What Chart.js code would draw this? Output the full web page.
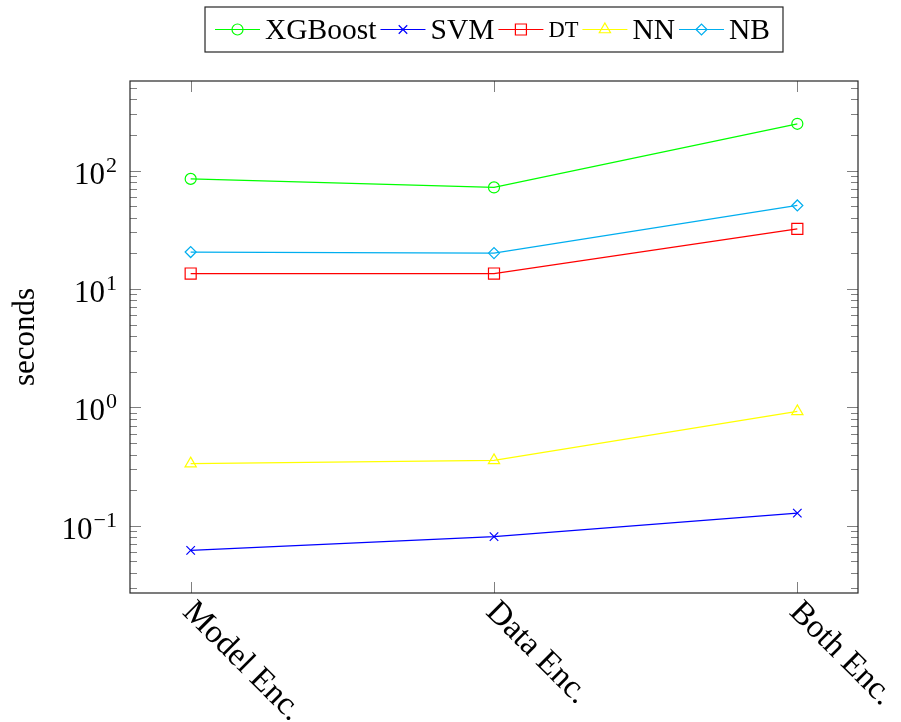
<!DOCTYPE html>
<html>
<head>
<meta charset="utf-8">
<script src="https://cdn.jsdelivr.net/npm/chart.js@4.4.1/dist/chart.umd.min.js"></script>
<style>
    html, body { margin: 0; padding: 0; background: #ffffff; }
    canvas { display: block; }
</style>
</head>
<body>
<canvas id="timeChart" width="901" height="722"></canvas>
<script>
// Runtime in seconds per encoding variant
const categories = ['Model Enc.', 'Data Enc.', 'Both Enc.'];
const xgboostTimes = [85, 72, 248];
const svmTimes = [0.062, 0.081, 0.128];
const dtTimes = [13.5, 13.5, 32.2];
const nnTimes = [0.335, 0.357, 0.925];
const nbTimes = [20.5, 20.1, 50.7];

const yMin = 0.0271;
const yMax = 570;
const yExponents = [-2, -1, 0, 1, 2];

const serifFont = '"Liberation Serif", "DejaVu Serif", serif';

function toPoints(values) {
    return values.map((v, i) => ({ x: i, y: v }));
}

function makeDataset(label, values, color, style, radius) {
    return {
        label: label,
        data: toPoints(values),
        borderColor: color,
        backgroundColor: 'rgba(0,0,0,0)',
        borderWidth: 1.2,
        pointStyle: style,
        pointRadius: radius,
        pointHoverRadius: radius,
        pointBorderColor: color,
        pointBackgroundColor: 'rgba(0,0,0,0)',
        pointBorderWidth: 1.2,
        tension: 0
    };
}

const chartData = {
    datasets: [
        makeDataset('XGBoost', xgboostTimes, '#00ff00', 'circle', 5.5),
        makeDataset('SVM', svmTimes, '#0000ff', 'crossRot', 6),
        makeDataset('DT', dtTimes, '#ff0000', 'rect', 7.8),
        makeDataset('NN', nnTimes, '#ffff00', 'triangle', 6.5),
        makeDataset('NB', nbTimes, '#00aeef', 'rectRot', 5.5)
    ]
};

// all 1..9 x 10^n values inside the axis range
function logTicks() {
    let ticks = [];
    yExponents.forEach(e => {
        for (let m = 1; m <= 9; m++) {
            let v = m * Math.pow(10, e);
            if (v >= yMin && v <= yMax) {
                ticks.push({ value: v, major: m === 1 });
            }
        }
    });
    return ticks;
}

// frame, inward ticks and all axis texts
const axisDecor = {
    id: 'axisDecor',
    afterDraw(chart) {
        const ctx = chart.ctx;
        const area = chart.chartArea;
        const xScale = chart.scales.x;
        const yScale = chart.scales.y;
        ctx.save();

        // y ticks on both sides
        ctx.strokeStyle = '#808080';
        ctx.lineWidth = 1;
        yScale.ticks.forEach(t => {
            let y = Math.round(yScale.getPixelForValue(t.value)) + 0.5;
            let len = t.major ? 11 : 7;
            ctx.beginPath();
            ctx.moveTo(area.left, y);
            ctx.lineTo(area.left + len, y);
            ctx.moveTo(area.right, y);
            ctx.lineTo(area.right - len, y);
            ctx.stroke();
        });

        // x ticks top and bottom
        categories.forEach((c, i) => {
            let x = Math.round(xScale.getPixelForValue(i)) + 0.5;
            ctx.beginPath();
            ctx.moveTo(x, area.top);
            ctx.lineTo(x, area.top + 11);
            ctx.moveTo(x, area.bottom);
            ctx.lineTo(x, area.bottom - 11);
            ctx.stroke();
        });

        // frame
        ctx.strokeStyle = '#262626';
        ctx.lineWidth = 1.2;
        ctx.strokeRect(area.left, area.top, area.right - area.left, area.bottom - area.top);

        ctx.fillStyle = '#000000';

        // y labels 10^n
        yScale.ticks.filter(t => t.major).forEach(t => {
            let y = yScale.getPixelForValue(t.value);
            let exp = String(Math.round(Math.log10(t.value))).replace('-', '\u2212');
            ctx.font = '22px ' + serifFont;
            ctx.textAlign = 'right';
            ctx.textBaseline = 'alphabetic';
            let expWidth = ctx.measureText(exp).width;
            ctx.fillText(exp, area.left - 13, y + 1);
            ctx.font = '31px ' + serifFont;
            ctx.fillText('10', area.left - 14 - expWidth, y + 13);
        });

        // x labels, turned down to the right
        ctx.font = '33px ' + serifFont;
        ctx.textAlign = 'left';
        ctx.textBaseline = 'middle';
        categories.forEach((c, i) => {
            let x = xScale.getPixelForValue(i);
            ctx.save();
            ctx.translate(x - 3, area.bottom + 14);
            ctx.rotate(Math.PI / 4);
            ctx.fillText(c, 0, 0);
            ctx.restore();
        });

        // y axis title
        ctx.save();
        ctx.translate(26, (area.top + area.bottom) / 2);
        ctx.rotate(-Math.PI / 2);
        ctx.textAlign = 'center';
        ctx.textBaseline = 'middle';
        ctx.font = '31px ' + serifFont;
        ctx.fillText('seconds', 0, 0);
        ctx.restore();

        ctx.restore();
    }
};

// boxed legend with a line sample through each marker
const boxLegend = {
    id: 'boxLegend',
    afterDraw(chart) {
        const ctx = chart.ctx;
        const area = chart.chartArea;
        const lineLen = 45;
        const padLeft = 10;
        const padRight = 13;
        const gapText = 5;
        const gapNext = 4;
        const top = 7;
        const height = 45;

        ctx.save();
        let items = chart.data.datasets.map(ds => {
            let font = (ds.label === 'DT' ? '22.5px ' : '29.5px ') + serifFont;
            ctx.font = font;
            return { ds: ds, font: font, w: ctx.measureText(ds.label).width };
        });
        let total = padLeft + padRight - gapNext;
        items.forEach(it => { total += lineLen + gapText + it.w + gapNext; });

        let left = (area.left + area.right) / 2 - total / 2;
        let midY = top + height / 2;

        ctx.fillStyle = '#ffffff';
        ctx.fillRect(left, top, total, height);
        ctx.strokeStyle = '#262626';
        ctx.lineWidth = 1.2;
        ctx.strokeRect(left, top, total, height);

        let x = left + padLeft;
        items.forEach(it => {
            let ds = it.ds;
            ctx.strokeStyle = ds.borderColor;
            ctx.lineWidth = ds.borderWidth;
            ctx.beginPath();
            ctx.moveTo(x, midY);
            ctx.lineTo(x + lineLen, midY);
            ctx.stroke();

            ctx.fillStyle = 'rgba(0,0,0,0)';
            Chart.helpers.drawPoint(ctx, {
                pointStyle: ds.pointStyle,
                radius: ds.pointRadius,
                rotation: 0,
                borderWidth: ds.pointBorderWidth
            }, x + lineLen / 2, midY);

            ctx.fillStyle = '#000000';
            ctx.font = it.font;
            ctx.textAlign = 'left';
            ctx.textBaseline = 'middle';
            ctx.fillText(ds.label, x + lineLen + gapText, midY + 2);
            x += lineLen + gapText + it.w + gapNext;
        });
        ctx.restore();
    }
};

const chartConfig = {
    type: 'line',
    data: chartData,
    options: {
        responsive: false,
        animation: false,
        devicePixelRatio: 1,
        layout: {
            padding: { top: 81, right: 43, bottom: 0, left: 0 }
        },
        plugins: {
            legend: { display: false },
            tooltip: { enabled: false }
        },
        scales: {
            x: {
                type: 'linear',
                min: -0.2,
                max: 2.2,
                grid: { display: false },
                border: { display: false },
                ticks: { display: false },
                afterFit(scale) { scale.height = 129; }
            },
            y: {
                type: 'logarithmic',
                min: yMin,
                max: yMax,
                grid: { display: false },
                border: { display: false },
                ticks: { display: false },
                afterBuildTicks(scale) { scale.ticks = logTicks(); },
                afterFit(scale) { scale.width = 130; }
            }
        }
    },
    plugins: [axisDecor, boxLegend]
};

let timeChart = new Chart(document.getElementById('timeChart'), chartConfig);
</script>
</body>
</html>
